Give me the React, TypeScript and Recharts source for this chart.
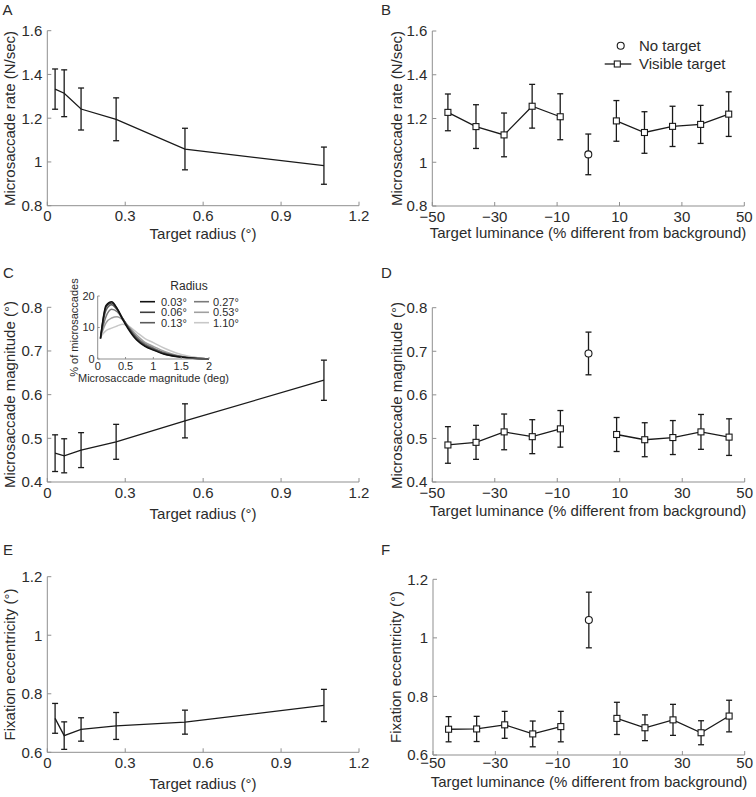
import React from 'react';
import { ComposedChart, LineChart, Line, XAxis, YAxis, ErrorBar } from 'recharts';

const FONT = '"Liberation Sans", Arial, Helvetica, sans-serif';
const INK = '#1a1a1a';
const AXIS = '#8f8f8f';
const TEXT = '#2b2b2b';

// target radius experiments (panels A, C, E)
const radius = [0.03, 0.065, 0.13, 0.265, 0.53, 1.065];
const rateByRadius = [1.333, 1.314, 1.242, 1.195, 1.059, 0.983];
const rateByRadiusErr = [0.092, 0.107, 0.096, 0.098, 0.095, 0.085];
const magByRadius = [0.466, 0.46, 0.473, 0.492, 0.54, 0.633];
const magByRadiusErr = [0.042, 0.039, 0.04, 0.04, 0.039, 0.046];
const eccByRadius = [0.716, 0.657, 0.678, 0.69, 0.703, 0.76];
const eccByRadiusErr = [0.051, 0.047, 0.04, 0.046, 0.041, 0.055];

// target luminance experiments (panels B, D, F)
const luminance = [-45, -36, -27, -18, -9, 9, 18, 27, 36, 45];
const rateByLum = [1.228, 1.163, 1.125, 1.256, 1.208, 1.189, 1.136, 1.164, 1.173, 1.22];
const rateByLumErr = [0.084, 0.1, 0.1, 0.1, 0.105, 0.093, 0.095, 0.092, 0.087, 0.102];
const rateNoTarget = [1.036, 0.093];
const magByLum = [0.485, 0.491, 0.515, 0.504, 0.522, 0.509, 0.497, 0.502, 0.515, 0.503];
const magByLumErr = [0.042, 0.039, 0.041, 0.039, 0.042, 0.039, 0.039, 0.039, 0.04, 0.042];
const magNoTarget = [0.695, 0.049];
const eccByLum = [0.688, 0.689, 0.703, 0.672, 0.697, 0.725, 0.693, 0.72, 0.676, 0.733];
const eccByLumErr = [0.043, 0.043, 0.046, 0.044, 0.052, 0.055, 0.044, 0.053, 0.041, 0.054];
const eccNoTarget = [1.061, 0.095];

// inset: magnitude distributions per radius
const magBins = [0.05, 0.15, 0.25, 0.35, 0.45, 0.55, 0.7, 0.85, 1.0, 1.2, 1.4, 1.6, 1.8, 2.0];
const dist003 = [6.5, 17.0, 18.2, 16.0, 12.5, 9.5, 6.0, 4.0, 2.8, 1.5, 0.8, 0.4, 0.1, 0];
const dist006 = [6.5, 16.5, 17.8, 16.0, 12.8, 9.8, 6.3, 4.2, 3.0, 1.6, 0.9, 0.4, 0.1, 0];
const dist013 = [6.5, 15.5, 17.2, 15.6, 12.8, 10.0, 6.6, 4.4, 3.2, 1.8, 1.0, 0.5, 0.2, 0];
const dist027 = [7.0, 13.5, 15.8, 15.0, 12.8, 10.2, 7.0, 4.8, 3.5, 2.0, 1.1, 0.5, 0.2, 0];
const dist053 = [7.0, 11.5, 13.0, 13.4, 12.5, 10.5, 7.6, 5.3, 4.0, 2.4, 1.3, 0.6, 0.2, 0];
const dist110 = [7.0, 9.0, 9.8, 10.5, 11.0, 10.5, 8.5, 6.5, 5.2, 3.4, 2.0, 1.0, 0.4, 0];
const radiusLabels = ['0.03°', '0.06°', '0.13°', '0.27°', '0.53°', '1.10°'];
const radiusGreys = ['#111111', '#3d3d3d', '#5a5a5a', '#7a7a7a', '#a0a0a0', '#c8c8c8'];

const byRadius = (vals: number[], errs: number[]) =>
  radius.map((x, i) => ({ x, y: vals[i], e: errs[i] }));

const byLum = (vals: number[], errs: number[], none: number[]) => {
  const rows: any[] = luminance.map((x, i) => ({ x, vis: vals[i], visErr: errs[i] }));
  rows.splice(5, 0, { x: 0, vis: null, visErr: null, none: none[0], noneErr: none[1] });
  return rows;
};

const insetData = magBins.map((m, i) => ({
  m,
  r003: dist003[i],
  r006: dist006[i],
  r013: dist013[i],
  r027: dist027[i],
  r053: dist053[i],
  r110: dist110[i],
}));
const insetKeys = ['r003', 'r006', 'r013', 'r027', 'r053', 'r110'];

const fmt = (v: number) => (v < 0 ? '\u2212' + Math.abs(v) : String(v));

const square = (props: any) => {
  const { cx, cy, value, index } = props;
  if (value == null || cy == null) return <g key={'s' + index} />;
  return <rect key={'s' + index} x={cx - 3} y={cy - 3} width={6} height={6} fill="#fff" stroke={INK} strokeWidth={1.1} />;
};

const circle = (props: any) => {
  const { cx, cy, value, index } = props;
  if (value == null || cy == null) return <g key={'c' + index} />;
  return <circle key={'c' + index} cx={cx} cy={cy} r={3.5} fill="#fff" stroke={INK} strokeWidth={1.1} />;
};

type Rect = { x: number; y: number; w: number; h: number };

interface PanelProps {
  left: number;
  top: number;
  plot: Rect;
  data: any[];
  xDomain: number[];
  xTicks: number[];
  yDomain: number[];
  yTicks: number[];
  xGap?: number;
  children: React.ReactNode;
}

const Panel = ({ left, top, plot, data, xDomain, xTicks, yDomain, yTicks, xGap = 9, children }: PanelProps) => {
  const width = 378;
  const height = 265;
  const yw = 40;
  const xh = 30;
  const margin = {
    top: plot.y,
    left: plot.x - yw,
    right: width - plot.x - plot.w,
    bottom: height - plot.y - plot.h - xh,
  };
  const tick = { fill: TEXT, fontSize: 15, fontFamily: FONT };
  return (
    <div style={{ position: 'absolute', left, top }}>
      <ComposedChart width={width} height={height} data={data} margin={margin}>
        <XAxis
          type="number"
          dataKey="x"
          domain={xDomain}
          ticks={xTicks}
          interval={0}
          height={xh}
          axisLine={{ stroke: AXIS }}
          tickLine={{ stroke: AXIS }}
          tickSize={-4}
          tickMargin={xGap}
          tick={tick}
          tickFormatter={fmt}
        />
        <YAxis
          type="number"
          domain={yDomain}
          ticks={yTicks}
          interval={0}
          width={yw}
          axisLine={{ stroke: AXIS }}
          tickLine={{ stroke: AXIS }}
          tickSize={-4}
          tickMargin={9}
          tick={tick}
        />
        {children}
      </ComposedChart>
    </div>
  );
};

const radiusSeries = (
  <Line dataKey="y" stroke={INK} strokeWidth={1.3} dot={false} isAnimationActive={false}>
    <ErrorBar dataKey="e" width={3} stroke={INK} strokeWidth={1.3} direction="y" />
  </Line>
);

const lumSeries = [
  <Line key="vis" dataKey="vis" stroke={INK} strokeWidth={1.3} dot={square} connectNulls={false} isAnimationActive={false}>
    <ErrorBar dataKey="visErr" width={3} stroke={INK} strokeWidth={1.3} direction="y" />
  </Line>,
  <Line key="none" dataKey="none" stroke="none" dot={circle} isAnimationActive={false}>
    <ErrorBar dataKey="noneErr" width={3} stroke={INK} strokeWidth={1.3} direction="y" />
  </Line>,
];

const radiusTicks = [0, 0.3, 0.6, 0.9, 1.2];
const lumTicks = [-50, -30, -10, 10, 30, 50];

const Inset = () => {
  const tick = { fill: TEXT, fontSize: 11, fontFamily: FONT };
  return (
    <div style={{ position: 'absolute', left: 55, top: 283 }}>
      <LineChart width={160} height={100} data={insetData} margin={{ top: 13, left: 22.7, right: 6, bottom: 9 }}>
        <XAxis
          type="number"
          dataKey="m"
          domain={[0, 2]}
          ticks={[0, 0.5, 1, 1.5, 2]}
          interval={0}
          height={15}
          axisLine={{ stroke: AXIS }}
          tickLine={{ stroke: AXIS }}
          tickSize={-2}
          tickMargin={5}
          tick={tick}
        />
        <YAxis
          type="number"
          domain={[0, 20]}
          ticks={[0, 10, 20]}
          interval={0}
          width={20}
          axisLine={{ stroke: AXIS }}
          tickLine={{ stroke: AXIS }}
          tickSize={-2}
          tickMargin={5}
          tick={tick}
        />
        {insetKeys
          .map((k, i) => (
            <Line
              key={k}
              dataKey={k}
              type="monotone"
              stroke={radiusGreys[i]}
              strokeWidth={1.5}
              dot={false}
              isAnimationActive={false}
            />
          ))
          .reverse()}
      </LineChart>
    </div>
  );
};

const Overlay = () => {
  const t = { fontFamily: FONT, fill: TEXT, fontSize: 15 };
  const s = { fontFamily: FONT, fill: TEXT, fontSize: 11 };
  return (
    <svg width={756} height={797} style={{ position: 'absolute', left: 0, top: 0, pointerEvents: 'none' }}>
      <text x={2.5} y={15} {...t}>A</text>
      <text x={381} y={15} {...t}>B</text>
      <text x={3} y={278} {...t}>C</text>
      <text x={381} y={278} {...t}>D</text>
      <text x={3} y={555} {...t}>E</text>
      <text x={381} y={555} {...t}>F</text>

      <text transform="translate(15,118.5) rotate(-90)" textAnchor="middle" {...t}>Microsaccade rate (N/sec)</text>
      <text transform="translate(402,118.5) rotate(-90)" textAnchor="middle" {...t}>Microsaccade rate (N/sec)</text>
      <text transform="translate(15,394.5) rotate(-90)" textAnchor="middle" {...t}>Microsaccade magnitude (°)</text>
      <text transform="translate(402,395.5) rotate(-90)" textAnchor="middle" {...t}>Microsaccade magnitude (°)</text>
      <text transform="translate(15,664.5) rotate(-90)" textAnchor="middle" {...t}>Fixation eccentricity (°)</text>
      <text transform="translate(401,667) rotate(-90)" textAnchor="middle" {...t}>Fixation eccentricity (°)</text>

      <text x={203} y={238.5} textAnchor="middle" {...t}>Target radius (°)</text>
      <text x={588} y={238} textAnchor="middle" {...t}>Target luminance (% different from background)</text>
      <text x={203} y={518.5} textAnchor="middle" {...t}>Target radius (°)</text>
      <text x={588} y={516} textAnchor="middle" {...t}>Target luminance (% different from background)</text>
      <text x={203} y={789} textAnchor="middle" {...t}>Target radius (°)</text>
      <text x={589} y={787} textAnchor="middle" {...t}>Target luminance (% different from background)</text>

      {/* legend of B */}
      <circle cx={620.7} cy={45.7} r={3.5} fill="#fff" stroke={INK} strokeWidth={1.1} />
      <text x={639} y={51} {...t}>No target</text>
      <line x1={604.7} x2={631.3} y1={64} y2={64} stroke={INK} strokeWidth={1.3} />
      <rect x={614.3} y={61} width={6} height={6} fill="#fff" stroke={INK} strokeWidth={1.1} />
      <text x={639} y={69} {...t}>Visible target</text>

      {/* inset labels and legend */}
      <text x={153.5} y={382} textAnchor="middle" {...s}>Microsaccade magnitude (deg)</text>
      <text transform="translate(78,327.5) rotate(-90)" textAnchor="middle" {...s}>% of microsaccades</text>
      <text x={189} y={290} textAnchor="middle" {...s} fontSize={12}>Radius</text>
      {radiusLabels.map((lab, i) => {
        const col = i < 3 ? 0 : 1;
        const row = i % 3;
        const lx = col === 0 ? 140 : 194;
        const tx = col === 0 ? 161 : 213;
        const cy = [301.7, 312.3, 322.7][row];
        return (
          <g key={lab}>
            <line x1={lx} x2={lx + 15} y1={cy} y2={cy} stroke={radiusGreys[i]} strokeWidth={1.6} />
            <text x={tx} y={cy + 4} {...s}>{lab}</text>
          </g>
        );
      })}
    </svg>
  );
};

export default function App() {
  return (
    <div style={{ position: 'absolute', left: 0, top: 0, width: 756, height: 797, background: '#fff' }}>
      <Panel left={0} top={0} plot={{ x: 47.3, y: 30.7, w: 311.7, h: 175 }} data={byRadius(rateByRadius, rateByRadiusErr)}
        xDomain={[0, 1.2]} xTicks={radiusTicks} yDomain={[0.8, 1.6]} yTicks={[0.8, 1, 1.2, 1.4, 1.6]}>
        {radiusSeries}
      </Panel>
      <Panel left={378} top={0} plot={{ x: 54.3, y: 31, w: 312, h: 175 }} data={byLum(rateByLum, rateByLumErr, rateNoTarget)}
        xDomain={[-50, 50]} xTicks={lumTicks} yDomain={[0.8, 1.6]} yTicks={[0.8, 1, 1.2, 1.4, 1.6]}>
        {lumSeries}
      </Panel>
      <Panel left={0} top={265} plot={{ x: 47.3, y: 42.3, w: 311.7, h: 174.7 }} data={byRadius(magByRadius, magByRadiusErr)}
        xDomain={[0, 1.2]} xTicks={radiusTicks} yDomain={[0.4, 0.8]} yTicks={[0.4, 0.5, 0.6, 0.7, 0.8]}>
        {radiusSeries}
      </Panel>
      <Panel left={378} top={265} plot={{ x: 54.3, y: 42.7, w: 312.4, h: 174.3 }} data={byLum(magByLum, magByLumErr, magNoTarget)}
        xDomain={[-50, 50]} xTicks={lumTicks} yDomain={[0.4, 0.8]} yTicks={[0.4, 0.5, 0.6, 0.7, 0.8]}>
        {lumSeries}
      </Panel>
      <Panel left={0} top={530} plot={{ x: 47.3, y: 46.7, w: 311.7, h: 175.6 }} data={byRadius(eccByRadius, eccByRadiusErr)}
        xDomain={[0, 1.2]} xTicks={radiusTicks} yDomain={[0.6, 1.2]} yTicks={[0.6, 0.8, 1, 1.2]}>
        {radiusSeries}
      </Panel>
      <Panel left={378} top={530} plot={{ x: 55, y: 49.3, w: 311.7, h: 175.7 }} data={byLum(eccByLum, eccByLumErr, eccNoTarget)}
        xDomain={[-50, 50]} xTicks={lumTicks} yDomain={[0.6, 1.2]} yTicks={[0.6, 0.8, 1, 1.2]} xGap={6}>
        {lumSeries}
      </Panel>
      <Inset />
      <Overlay />
    </div>
  );
}
